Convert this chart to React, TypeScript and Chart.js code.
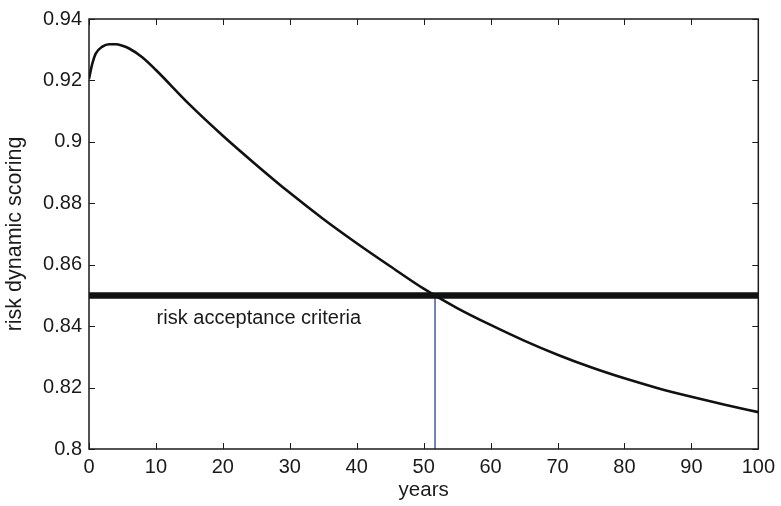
import React, { useEffect, useRef } from "react";
import { Chart, registerables } from "chart.js";

Chart.register(...registerables);

// ---- data ----
const years = [0, 0.5, 1, 2, 3, 4, 5, 6, 8, 10, 15, 20, 25, 30, 35, 40, 45, 50, 55, 60, 65, 70, 75, 80, 85, 90, 95, 100];
const riskScore = [
  0.9205, 0.9255, 0.9287, 0.9310, 0.9318, 0.9318, 0.9313, 0.9304, 0.9275, 0.9234,
  0.9122, 0.9020, 0.8925, 0.8834, 0.8749, 0.8670, 0.8595, 0.8522, 0.8459, 0.8404,
  0.8353, 0.8307, 0.8266, 0.8230, 0.8198, 0.8170, 0.8144, 0.8120,
];
const acceptanceLevel = 0.85;
const acceptanceSpan = [0, 100];
const crossingYear = 51.7;
const xTicks = [0, 10, 20, 30, 40, 50, 60, 70, 80, 90, 100];
const yTicks = [0.8, 0.82, 0.84, 0.86, 0.88, 0.9, 0.92, 0.94];
const annotationText = "risk acceptance criteria";
const annotationPos = { x: 10.1, y: 0.8408 };
const xTitle = "years";
const yTitle = "risk dynamic scoring";

const FONT = "'Liberation Sans', Arial, Helvetica, sans-serif";

const framePlugin = {
  id: "matlabFrame",
  afterDatasetsDraw(chart: any) {
    const { ctx, chartArea, scales } = chart;
    const { left, right, top, bottom } = chartArea;
    const tl = 6;
    ctx.save();
    ctx.strokeStyle = "#1a1a1a";
    ctx.lineWidth = 1.5;
    ctx.strokeRect(left, top, right - left, bottom - top);
    ctx.lineWidth = 1;
    ctx.beginPath();
    xTicks.forEach((v) => {
      const px = Math.round(scales.x.getPixelForValue(v)) + 0.5;
      ctx.moveTo(px, bottom);
      ctx.lineTo(px, bottom - tl);
      ctx.moveTo(px, top);
      ctx.lineTo(px, top + tl);
    });
    yTicks.forEach((v) => {
      const py = Math.round(scales.y.getPixelForValue(v)) + 0.5;
      ctx.moveTo(left, py);
      ctx.lineTo(left + tl, py);
      ctx.moveTo(right, py);
      ctx.lineTo(right - tl, py);
    });
    ctx.stroke();
    // annotation text
    ctx.fillStyle = "#1a1a1a";
    ctx.font = `20px ${FONT}`;
    ctx.textBaseline = "alphabetic";
    ctx.textAlign = "left";
    ctx.fillText(
      annotationText,
      scales.x.getPixelForValue(annotationPos.x),
      scales.y.getPixelForValue(annotationPos.y)
    );
    ctx.restore();
  },
};

export default function App() {
  const ref = useRef<HTMLCanvasElement | null>(null);

  useEffect(() => {
    if (!ref.current) return;
    const chart = new Chart(ref.current, {
      type: "line",
      data: {
        datasets: [
          {
            label: "acceptance",
            data: acceptanceSpan.map((x) => ({ x, y: acceptanceLevel })),
            borderColor: "#111111",
            borderWidth: 6.5,
            pointRadius: 0,
            tension: 0,
          },
          {
            label: "crossing",
            data: [
              { x: crossingYear, y: yTicks[0] },
              { x: crossingYear, y: acceptanceLevel },
            ],
            borderColor: "#2a3c9e",
            borderWidth: 1.3,
            pointRadius: 0,
            tension: 0,
          },
          {
            label: "risk",
            data: years.map((x, i) => ({ x, y: riskScore[i] })),
            borderColor: "#111111",
            borderWidth: 2.6,
            pointRadius: 0,
            cubicInterpolationMode: "monotone",
          },
        ],
      },
      options: {
        animation: false,
        responsive: false,
        events: [],
        layout: { padding: { left: 0, top: 15, right: 20, bottom: 0 } },
        plugins: { legend: { display: false }, tooltip: { enabled: false } },
        scales: {
          x: {
            type: "linear",
            min: 0,
            max: 100,
            grid: { display: false, drawTicks: false },
            border: { display: false },
            afterBuildTicks: (s: any) => {
              s.ticks = xTicks.map((v) => ({ value: v }));
            },
            afterFit: (s: any) => {
              s.height = 57;
            },
            ticks: {
              padding: 6,
              maxRotation: 0,
              color: "#1a1a1a",
              font: { family: FONT, size: 20 },
              callback: (v: any) => String(v),
            },
            title: {
              display: true,
              text: xTitle,
              color: "#1a1a1a",
              font: { family: FONT, size: 20.5 },
              padding: { top: 0, bottom: 3 },
            },
          },
          y: {
            type: "linear",
            min: 0.8,
            max: 0.94,
            grid: { display: false, drawTicks: false },
            border: { display: false },
            afterBuildTicks: (s: any) => {
              s.ticks = yTicks.map((v) => ({ value: v }));
            },
            afterFit: (s: any) => {
              s.width = 89;
            },
            ticks: {
              padding: 7,
              color: "#1a1a1a",
              font: { family: FONT, size: 20 },
              callback: (v: any) => String(parseFloat(Number(v).toFixed(2))),
            },
            title: {
              display: true,
              text: yTitle,
              color: "#1a1a1a",
              font: { family: FONT, size: 21.5 },
              padding: { top: 2, bottom: 0 },
            },
          },
        },
      },
      plugins: [framePlugin],
    } as any);
    return () => chart.destroy();
  }, []);

  return (
    <div style={{ position: "fixed", left: 0, top: 0, width: 781, height: 506, background: "#fff" }}>
      <canvas ref={ref} width={781} height={506} style={{ display: "block" }} />
    </div>
  );
}
